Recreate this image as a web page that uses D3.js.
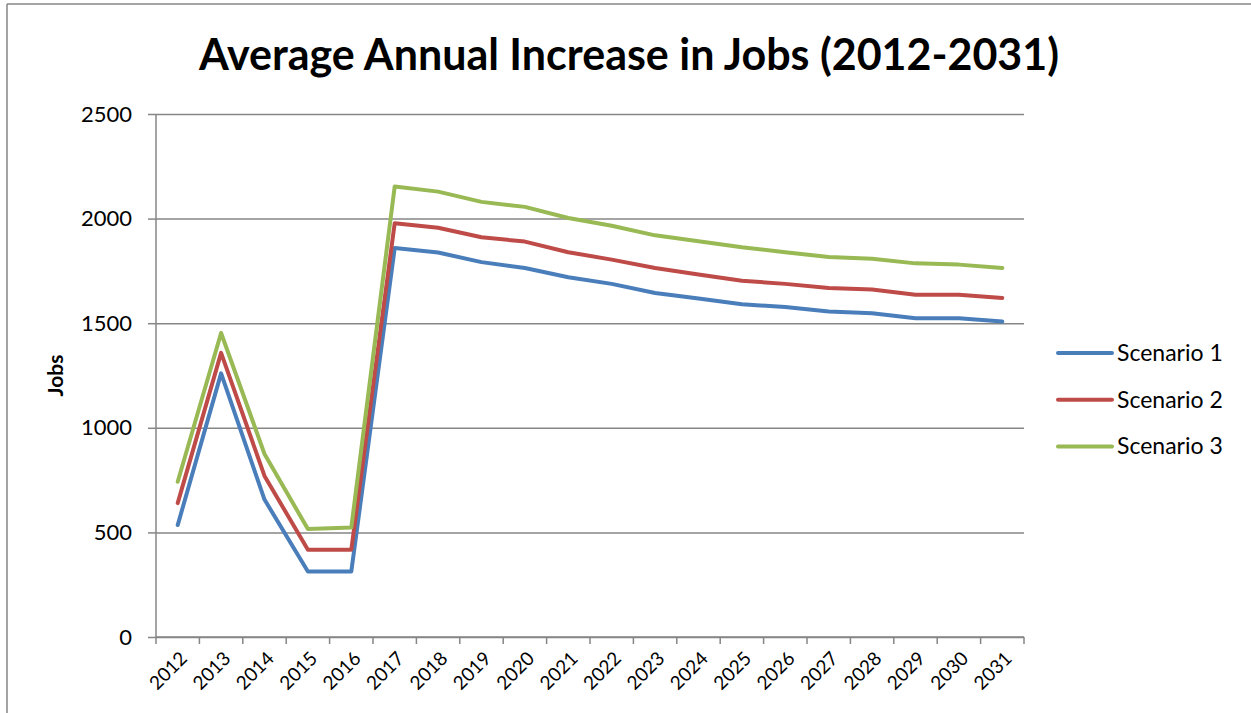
<!DOCTYPE html>
<html>
<head>
<meta charset="utf-8">
<script src="https://cdn.jsdelivr.net/npm/d3@7"></script>
<style>
  html, body { margin: 0; padding: 0; background: #fff; }
  svg { display: block; font-family: Lato, "Open Sans", sans-serif; }
</style>
</head>
<body>
<svg id="chart" width="1251" height="713"></svg>
<script>
// Chart data
const years = ["2012","2013","2014","2015","2016","2017","2018","2019","2020","2021",
               "2022","2023","2024","2025","2026","2027","2028","2029","2030","2031"];
const scenario1 = [535, 1260, 657, 313, 313, 1859, 1838, 1792, 1764, 1720,
                   1688, 1644, 1618, 1591, 1577, 1556, 1548, 1524, 1524, 1508];
const scenario2 = [640, 1358, 770, 417, 417, 1978, 1956, 1911, 1890, 1839,
                   1804, 1764, 1733, 1703, 1688, 1668, 1661, 1636, 1636, 1621];
const scenario3 = [742, 1453, 875, 516, 523, 2153, 2129, 2080, 2056, 2003,
                   1966, 1920, 1892, 1863, 1839, 1816, 1808, 1786, 1780, 1764];
const seriesNames = ["Scenario 1", "Scenario 2", "Scenario 3"];
const yTicks = [0, 500, 1000, 1500, 2000, 2500];

const series = [
  { name: seriesNames[0], values: scenario1, color: "#4a7ebb" },
  { name: seriesNames[1], values: scenario2, color: "#be4b48" },
  { name: seriesNames[2], values: scenario3, color: "#98b954" }
];

const svg = d3.select("#chart");
const plot = { left: 156, right: 1024, top: 114, bottom: 637 };
const gridColor = "#868686";

// Outer chart frame
svg.append("line").attr("x1", 7).attr("x2", 1251).attr("y1", 4).attr("y2", 4)
  .attr("stroke", gridColor).attr("stroke-width", 1.5);
svg.append("line").attr("x1", 7).attr("x2", 7).attr("y1", 4).attr("y2", 713)
  .attr("stroke", gridColor).attr("stroke-width", 1.5);

const x = d3.scaleBand().domain(years).range([plot.left, plot.right]).padding(0);
const y = d3.scaleLinear().domain([0, 2500]).range([plot.bottom, plot.top]);

// Horizontal gridlines + y axis ticks
const yAxis = svg.append("g")
  .attr("transform", `translate(${plot.left},0)`)
  .call(d3.axisLeft(y).tickValues(yTicks).tickSize(8).tickPadding(16).tickFormat(d3.format("d")));
yAxis.select(".domain").attr("stroke", gridColor).attr("stroke-width", 1.5)
  .attr("d", `M0,${plot.bottom}V${plot.top}`);
yAxis.selectAll(".tick line").attr("stroke", gridColor).attr("stroke-width", 1.5);
yAxis.selectAll(".tick text").attr("font-size", 22).attr("fill", "#000")
  .attr("font-family", "Lato, sans-serif");
yAxis.selectAll(".tick").append("line")
  .attr("x1", 0).attr("x2", plot.right - plot.left)
  .attr("stroke", gridColor).attr("stroke-width", 1.5);

// X axis with ticks on category boundaries
const xAxisG = svg.append("g").attr("transform", `translate(0,${plot.bottom})`);
xAxisG.append("line").attr("x1", plot.left).attr("x2", plot.right)
  .attr("stroke", gridColor).attr("stroke-width", 1.5);
const boundaries = years.map(d => x(d)).concat([x(years[years.length - 1]) + x.bandwidth()]);
xAxisG.selectAll("line.tick").data(boundaries).enter().append("line")
  .attr("class", "tick")
  .attr("x1", d => d).attr("x2", d => d).attr("y1", 0).attr("y2", 7)
  .attr("stroke", gridColor).attr("stroke-width", 1.5);
xAxisG.selectAll("text").data(years).enter().append("text")
  .attr("transform", d => `translate(${x(d) + x.bandwidth() / 2 + 6},${18}) rotate(-45)`)
  .attr("text-anchor", "end")
  .attr("dy", "0.35em")
  .attr("font-size", 19)
  .attr("fill", "#000")
  .text(d => d);

// Lines
const line = d3.line()
  .x((d, i) => x(years[i]) + x.bandwidth() / 2)
  .y(d => y(d));

svg.append("g").selectAll("path").data(series).enter().append("path")
  .attr("d", d => line(d.values))
  .attr("fill", "none")
  .attr("stroke", d => d.color)
  .attr("stroke-width", 4)
  .attr("stroke-linejoin", "round")
  .attr("stroke-linecap", "round");

// Title
svg.append("text")
  .attr("x", 629).attr("y", 70)
  .attr("text-anchor", "middle")
  .attr("font-size", 43)
  .attr("font-weight", "bold")
  .attr("fill", "#000")
  .text("Average Annual Increase in Jobs (2012-2031)");

// Y axis title
svg.append("text")
  .attr("transform", `translate(63,${(plot.top + plot.bottom) / 2}) rotate(-90)`)
  .attr("text-anchor", "middle")
  .attr("font-size", 21)
  .attr("font-weight", "bold")
  .attr("fill", "#000")
  .text("Jobs");

// Legend
const legend = svg.append("g");
const legendRows = legend.selectAll("g").data(series).enter().append("g")
  .attr("transform", (d, i) => `translate(1058,${353 + i * 46.7})`);
legendRows.append("line")
  .attr("x1", 0).attr("x2", 54)
  .attr("stroke", d => d.color).attr("stroke-width", 4).attr("stroke-linecap", "round");
legendRows.append("text")
  .attr("x", 59).attr("dy", "0.35em")
  .attr("font-size", 23).attr("fill", "#000")
  .text(d => d.name);
</script>
</body>
</html>
